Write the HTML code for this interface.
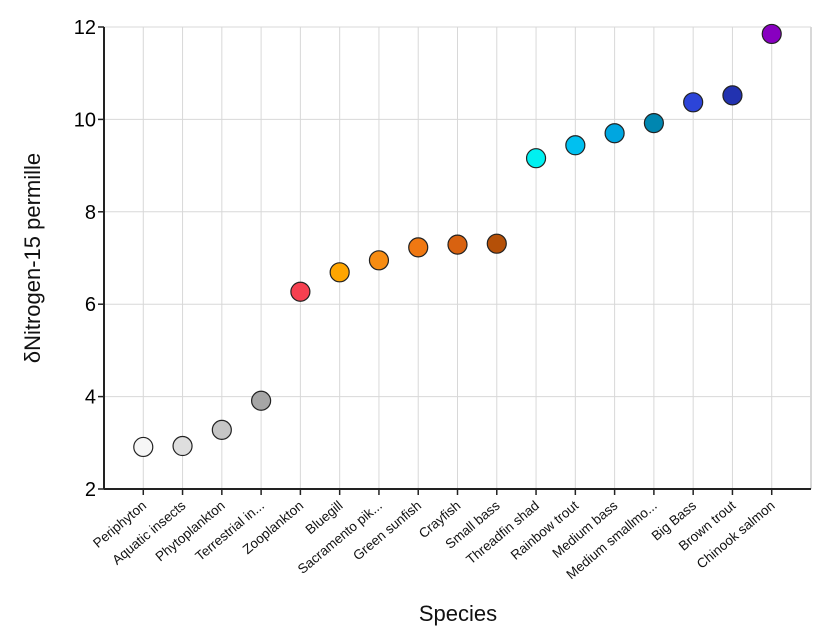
<!DOCTYPE html>
<html><head><meta charset="utf-8"><style>
body{margin:0;background:#fff;}
svg{display:block;font-family:"Liberation Sans",Arial,sans-serif;}
</style></head><body>
<svg id="chart" width="829" height="641"></svg>
<script>
const categories=["Periphyton","Aquatic insects","Phytoplankton","Terrestrial in...","Zooplankton","Bluegill","Sacramento pik...","Green sunfish","Crayfish","Small bass","Threadfin shad","Rainbow trout","Medium bass","Medium smallmo...","Big Bass","Brown trout","Chinook salmon"];
const values=[2.91,2.93,3.28,3.91,6.27,6.69,6.95,7.23,7.29,7.31,9.16,9.44,9.70,9.92,10.37,10.52,11.85];
const colors=["#f6f6f6","#dedede","#c6c6c6","#a6a6a6","#f54050","#ffa500","#f78c12","#ef7812","#d86210","#b55008","#00f0f0","#00c0f0","#00a6e0","#0086b0","#2c44d8","#2232b0","#8800c0"];
const yTicks=[2,4,6,8,10,12];
const NS="http://www.w3.org/2000/svg";
const svg=document.getElementById('chart');
const x0=104,x1=811,yTop=27,yBot=489,yMin=2,yMax=12;
const step=(x1-x0)/(categories.length-1+2);
function xs(i){return x0+step*(i+1);}
function ys(v){return yBot-(v-yMin)/(yMax-yMin)*(yBot-yTop);}
function mk(t,a,p){const e=document.createElementNS(NS,t);for(const k in a)e.setAttribute(k,a[k]);(p||svg).appendChild(e);return e;}
const grid=mk('g',{});


yTicks.forEach(t=>{const l=mk('line',{x1:x0,x2:x1,y1:ys(t),y2:ys(t),stroke:'#d8d8d8','stroke-width':1},grid);

});
categories.forEach((c,i)=>{const l=mk('line',{x1:xs(i),x2:xs(i),y1:yTop,y2:yBot,stroke:'#d8d8d8','stroke-width':1},grid);

});
const rb=mk('line',{x1:x1,x2:x1,y1:yTop,y2:yBot,stroke:'#d8d8d8','stroke-width':2},grid);


const ya=mk('g',{});


mk('line',{x1:x0,x2:x0,y1:yTop,y2:yBot,stroke:'#222','stroke-width':2},ya);
yTicks.forEach(t=>{mk('line',{x1:x0-6,x2:x0,y1:ys(t),y2:ys(t),stroke:'#222','stroke-width':1.5},ya);
const tx=mk('text',{x:x0-8,y:ys(t)+7,'text-anchor':'end','font-size':20,fill:'#000'},ya);tx.textContent=t;

});
const xa=mk('g',{});


mk('line',{x1:x0,x2:x1,y1:yBot,y2:yBot,stroke:'#222','stroke-width':2},xa);
categories.forEach((c,i)=>{const x=xs(i);mk('line',{x1:x,x2:x,y1:yBot,y2:yBot+6,stroke:'#222','stroke-width':1.5},xa);
const tx=mk('text',{x:x+4,y:yBot+18,'text-anchor':'end','font-size':13.5,fill:'#111',transform:`rotate(-40 ${x+4} ${yBot+18})`},xa);tx.textContent=c;

});
const pts=mk('g',{});


values.forEach((v,i)=>{const c=mk('circle',{cx:xs(i),cy:ys(v),r:9.5,fill:colors[i],stroke:'#222','stroke-width':1.2},pts);

});
const yt=mk('text',{x:40,y:258,'text-anchor':'middle','font-size':22,fill:'#111',transform:'rotate(-90 40 258)'});yt.textContent='δNitrogen-15 permille';


const xt=mk('text',{x:458,y:621,'text-anchor':'middle','font-size':22,fill:'#111'});xt.textContent='Species';


</script>
</body></html>
